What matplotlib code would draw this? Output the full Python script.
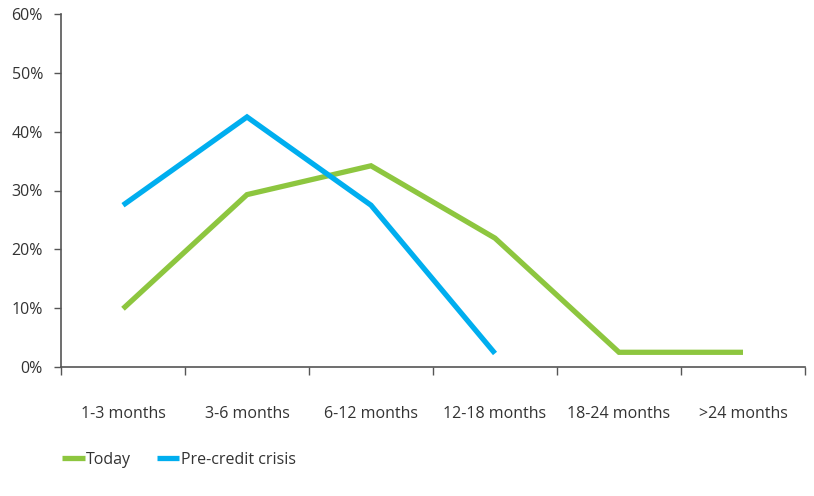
import matplotlib
matplotlib.use("Agg")
import matplotlib.pyplot as plt
from matplotlib.ticker import FixedLocator, NullFormatter

categories = ["1-3 months", "3-6 months", "6-12 months", "12-18 months", "18-24 months", ">24 months"]
today = [9.9, 29.3, 34.2, 21.9, 2.5, 2.5]
pre_crisis = [27.5, 42.5, 27.5, 2.3]
yticks = [0, 10, 20, 30, 40, 50, 60]

plt.rcParams['font.family'] = ['Open Sans', 'DejaVu Sans']
text_color = '#333333'
axis_color = '#555555'
green = '#8DC63F'
blue = '#00AEEF'
fs = 11.5

fig = plt.figure(figsize=(8.14, 4.96), dpi=100)
ax = fig.add_axes([61/814, (496-367)/496, 744/814, 353/496])

x_today = list(range(len(today)))
x_pre = list(range(len(pre_crisis)))
l1, = ax.plot(x_today, today, color=green, lw=3.8, solid_joinstyle='miter', solid_capstyle='butt', label='Today')
l2, = ax.plot(x_pre, pre_crisis, color=blue, lw=3.8, solid_joinstyle='miter', solid_capstyle='butt', label='Pre-credit crisis')

ax.set_xlim(-0.5, len(categories) - 0.5)
ax.set_ylim(0, 60)
ax.set_yticks(yticks)
ax.set_yticklabels([f"{v}%" for v in yticks], color=text_color, fontsize=fs)

ax.xaxis.set_major_locator(FixedLocator([i - 0.5 for i in range(len(categories) + 1)]))
ax.xaxis.set_major_formatter(NullFormatter())
ax.xaxis.set_minor_locator(FixedLocator(list(range(len(categories)))))
ax.set_xticklabels(categories, minor=True, color=text_color, fontsize=fs)
ax.tick_params(axis='x', which='minor', length=0, pad=28)
ax.tick_params(axis='x', which='major', length=6, width=1, color=axis_color, direction='out')
ax.tick_params(axis='y', length=5, width=1, color=axis_color, direction='out', pad=8)

for s in ['top', 'right']:
    ax.spines[s].set_visible(False)
for s in ['left', 'bottom']:
    ax.spines[s].set_color(axis_color)
    ax.spines[s].set_linewidth(1.2)

leg = fig.legend(handles=[l1, l2], loc='lower left', bbox_to_anchor=(56/814, 22/496),
                 ncol=2, frameon=False, fontsize=fs, handlelength=1.4, handletextpad=0.1,
                 columnspacing=1.6, borderaxespad=0)
for t in leg.get_texts():
    t.set_color(text_color)

fig.savefig("out.png", dpi=100)
